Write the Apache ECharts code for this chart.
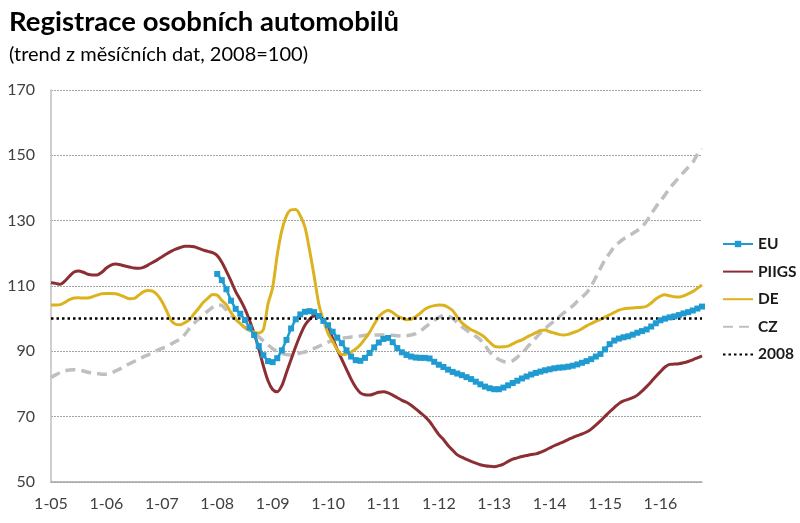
<!DOCTYPE html>
<html><head><meta charset="utf-8">
<script src="https://cdn.jsdelivr.net/npm/echarts@6/dist/echarts.min.js"></script>
<style>html,body{margin:0;padding:0;background:#fff}#c{width:800px;height:523px}</style>
</head><body><div id="c"></div>
<script>
// Categories: monthly Jan 2005 – Oct 2016, labels "m-yy"
const years = [2005,2006,2007,2008,2009,2010,2011,2012,2013,2014,2015,2016];
const lastMonth2016 = 10;
const categories = [];
years.forEach(y => { const n = y === 2016 ? lastMonth2016 : 12; for (let m = 1; m <= n; m++) categories.push(m + '-' + String(y).slice(2)); });

const yTicks = [50, 70, 90, 110, 130, 150, 170];
const baseline2008 = 100;

const piigs = [
111,110.8,110.5,111.5,113,114.3,114.6,114.2,113.6,113.4,
113.4,114.2,115.5,116.4,116.7,116.5,116.1,115.8,115.5,115.4,
115.7,116.4,117.2,118,118.9,119.8,120.6,121.3,121.8,122.2,
122.2,122,121.5,121,120.6,120.2,119.3,117.3,114.5,111.5,
108.3,105.8,103,99.5,95.5,90.8,85.5,81,78.3,77.6,
79.5,83.5,87.5,91.5,95,98,99.8,100.8,100.7,99.5,
97.5,94,90.5,87.5,84.5,81.5,79,77.3,76.7,76.6,
77,77.5,77.6,77.3,76.6,75.8,75,74.4,73.5,72.4,
71.2,70,68.5,66.5,64.5,63,61.2,59.7,58.3,57.6,
56.9,56.3,55.8,55.3,55,54.8,54.7,55,55.5,56.3,
57,57.4,57.8,58.1,58.4,58.6,59.1,59.7,60.4,61.1,
61.7,62.3,63,63.6,64.2,64.7,65.3,66.2,67.4,68.7,
70.1,71.5,72.8,74,74.8,75.3,75.8,76.6,77.8,79.2,
80.7,82.3,83.8,85.2,86,86.1,86.2,86.5,86.9,87.4,
88,88.6];

const de = [
104.2,104.2,104.3,105,105.8,106.3,106.4,106.3,106.3,106.7,
107.2,107.6,107.7,107.7,107.6,107.2,106.6,106.1,106.2,107.2,
108.2,108.6,108.4,107.3,105.3,102.5,99.5,98.3,98.1,98.8,
99.7,101.5,103.2,105,106.3,107.4,107.2,105.6,104.2,101.8,
100,98.5,97.4,96.6,95.9,95.6,96.7,104.5,109.5,119.5,
127,131.5,133.3,133.4,131.5,128,121,113,104.5,99.5,
95.5,93,90.5,89,89.2,89.8,90.7,92,93.8,95.8,
98.3,100.6,101.9,102.6,101.9,100.8,100.2,99.7,99.8,100.6,
101.7,102.9,103.6,104,104.2,104.1,103.5,102.5,100.5,98.7,
97.6,96.6,96,95.2,94.2,92.8,91.6,91.3,91.4,91.6,
92.3,93,93.5,94.3,95,95.7,96.4,96.5,96,95.6,
95.2,95,95.2,95.7,96.2,96.9,97.8,98.5,99.2,99.8,
100.5,101.2,101.9,102.6,103,103.2,103.3,103.4,103.5,103.8,
104.8,106,106.9,107.3,107,106.7,106.6,107,107.6,108.3,
109.3,110.3];

const cz = [
82,82.8,83.5,84,84.3,84.4,84.3,84,83.6,83.4,
83.2,83,83,83.3,84,84.7,85.5,86.2,86.9,87.6,
88.3,88.9,89.6,90.3,90.9,91.4,92.2,93,93.8,95.2,
97,98.6,99.9,101.2,102.4,103.5,104.2,104,102.6,101,
99.8,98.4,97.2,96.4,95.5,94.4,93.2,92,90.8,90,
89.4,89,88.9,89.1,89.5,89.8,90.3,90.9,91.5,92.2,
92.8,93.3,93.7,94,94.2,94.4,94.5,94.7,94.9,95,
95,95,95,95,94.9,94.8,94.7,94.8,95,95.4,
96.2,97.3,98.4,99.5,100.4,100.9,100.7,100.1,98.8,97.5,
96.5,95.4,94.6,93.5,91.8,89.9,88.4,87.5,86.9,86.7,
87.1,88.2,89.5,91,92.6,94.1,95.6,96.9,98.2,99.3,
100.5,101.7,102.8,103.9,105.3,106.6,107.9,110,112.6,115.4,
118,120,122,123.3,124.4,125.2,126.1,127,128.1,129.9,
132,134.2,136,137.9,139.9,141.6,143.2,144.8,146.3,147.8,
150.3,152];

// EU series starts Jan 2008 (index 36)
const euStartIndex = 36;
const eu = [
113.7,111.8,109,105.5,
103,101.5,99.6,97.3,95,91.6,88.8,87,86.7,87.9,
90.3,93.5,97,99.8,101.3,102.1,102.3,102,100.8,99.3,
98,96,94.2,92.5,90.3,88.4,87.3,87.1,88,89.5,
91.2,92.7,93.8,94.1,92.8,91,89.7,88.9,88.4,88.1,
88,88,87.8,86.8,85.9,85.2,84.4,83.7,83.2,82.7,
82.1,81.5,80.7,79.9,79.2,78.7,78.4,78.4,78.9,79.6,
80.3,81,81.7,82.3,82.9,83.4,83.8,84.2,84.5,84.8,
85,85.1,85.3,85.6,86,86.5,87,87.6,88.4,89.2,
90.6,92.2,93.3,93.9,94.3,94.6,95.1,95.7,96.2,96.7,
97.6,98.6,99.5,100,100.4,100.7,101.1,101.6,102,102.5,
103.1,103.7];
const euPadded = new Array(euStartIndex).fill(null).concat(eu);

const FONT = 'Lato, "Open Sans", sans-serif';
const noMarker = {opacity: 0};
const chart = echarts.init(document.getElementById('c'), null, {renderer: 'canvas'});
chart.setOption({
  animation: false,
  backgroundColor: '#fff',
  title: [
    {text: 'Registrace osobních automobilů', left: 4, top: 3,
     textStyle: {fontFamily: FONT, fontSize: 27.5, fontWeight: 'bold', color: '#000'}},
    {text: '(trend z měsíčních dat, 2008=100)', left: 4, top: 40,
     textStyle: {fontFamily: FONT, fontSize: 20, fontWeight: 'normal', color: '#000'}}
  ],
  legend: {
    orient: 'vertical', left: 717, top: 231, itemWidth: 30, itemHeight: 8, itemGap: 11.6,
    data: [
      {name: 'EU'},
      {name: 'PIIGS', itemStyle: noMarker},
      {name: 'DE', itemStyle: noMarker},
      {name: 'CZ', itemStyle: noMarker},
      {name: '2008', itemStyle: noMarker}
    ],
    textStyle: {fontFamily: FONT, fontSize: 15.5, fontWeight: 'bold', color: '#1a1a1a'}
  },
  grid: {left: 51, right: 98, top: 90, bottom: 41, containLabel: false},
  xAxis: {
    type: 'category', data: categories, boundaryGap: false,
    axisLine: {lineStyle: {color: '#a6a6a6', width: 1.5}},
    axisTick: {show: false},
    axisLabel: {interval: 11, color: '#404040', fontFamily: FONT, fontSize: 16, margin: 14},
    splitLine: {show: false}
  },
  yAxis: {
    type: 'value', min: yTicks[0], max: yTicks[yTicks.length - 1], interval: 20,
    axisLine: {show: true, lineStyle: {color: '#bfbfbf', width: 1.5}},
    axisTick: {show: false},
    axisLabel: {color: '#404040', fontFamily: FONT, fontSize: 16, margin: 16},
    splitLine: {lineStyle: {color: '#8c8c8c', type: [2, 1], width: 0.8}}
  },
  series: [
    {name: 'EU', type: 'line', data: euPadded, connectNulls: false,
     symbol: 'rect', symbolSize: 6, showAllSymbol: true,
     itemStyle: {color: '#1f9bd2'}, lineStyle: {color: '#1f9bd2', width: 2.5}, z: 5},
    {name: 'PIIGS', type: 'line', data: piigs, smooth: 0.3, showSymbol: false, symbol: 'none',
     itemStyle: {color: '#8c2f34'}, lineStyle: {color: '#8c2f34', width: 3}, z: 4},
    {name: 'DE', type: 'line', data: de, smooth: 0.3, showSymbol: false, symbol: 'none',
     itemStyle: {color: '#dcb31f'}, lineStyle: {color: '#dcb31f', width: 3}, z: 4},
    {name: 'CZ', type: 'line', data: cz, smooth: 0.3, showSymbol: false, symbol: 'none',
     itemStyle: {color: '#bfbfbf'}, lineStyle: {color: '#bfbfbf', width: 3.5, type: [10, 6]}, z: 3},
    {name: '2008', type: 'line', data: [], symbol: 'none',
     itemStyle: {color: '#000'}, lineStyle: {color: '#000', width: 2.5, type: [2.5, 3]},
     markLine: {silent: true, symbol: 'none', label: {show: false},
       lineStyle: {color: '#000', width: 2.5, type: [2.5, 3]},
       data: [{yAxis: baseline2008}]}, z: 2}
  ]
});
</script></body></html>
